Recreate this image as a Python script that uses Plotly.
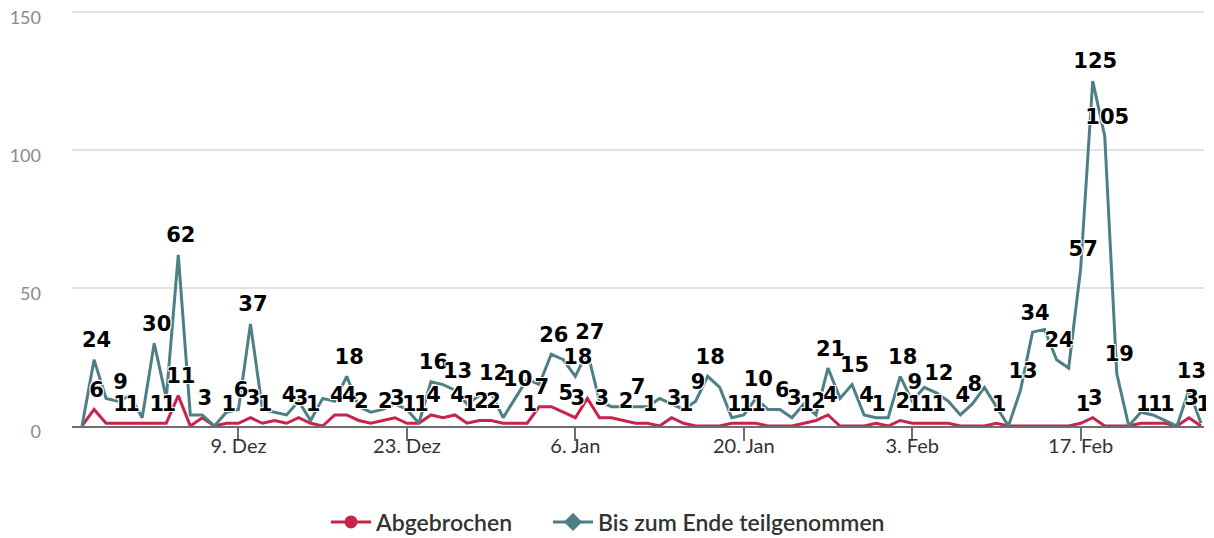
import pandas as pd
import plotly.graph_objects as go

# ---------------- data ----------------
start_date = "2019-11-26"

abgebrochen = [0, 6, 1, 1, 1, 1, 1, 1, 11, 0,
               3, 0, 1, 1, 3, 1, 2, 1, 3, 1,
               0, 4, 4, 2, 1, 2, 3, 1, 1, 4,
               3, 4, 1, 2, 2, 1, 1, 1, 7, 7,
               5, 3, 10, 3, 3, 2, 1, 1, 0, 3,
               1, 0, 0, 0, 1, 1, 1, 0, 0, 0,
               1, 2, 4, 0, 0, 0, 1, 0, 2, 1,
               1, 1, 1, 0, 0, 0, 1, 0, 0, 0,
               0, 0, 0, 1, 3, 0, 0, 0, 1, 1,
               1, 0, 3, 0]

bis_zum_ende = [0, 24, 10, 9, 11, 3, 30, 10, 62, 4,
                4, 0, 5, 6, 37, 6, 5, 4, 9, 2,
                10, 9, 18, 7, 5, 6, 8, 6, 1, 16,
                15, 13, 8, 11, 12, 3, 10, 17, 15, 26,
                24, 18, 27, 9, 7, 7, 7, 7, 10, 8,
                6, 9, 18, 14, 3, 4, 10, 6, 6, 3,
                8, 4, 21, 10, 15, 4, 3, 3, 18, 9,
                14, 12, 9, 4, 8, 14, 7, 0, 13, 34,
                35, 24, 21, 57, 125, 105, 19, 0, 5, 4,
                2, 0, 13, 1]

# indices of points whose data labels are visible (others hidden by overlap)
abg_label_idx = [1, 3, 4, 6, 7, 8, 10, 12, 14, 15, 18, 19, 21, 22, 23, 25, 26,
                 27, 28, 29, 31, 32, 33, 34, 37, 38, 40, 41, 43, 45, 47, 49, 50,
                 54, 55, 56, 60, 61, 62, 66, 68, 69, 70, 71, 76, 83, 84, 88, 89,
                 90, 92]
bis_label_idx = [1, 3, 6, 8, 13, 14, 17, 22, 29, 31, 34, 36, 39, 41, 42, 46, 51,
                 52, 56, 58, 59, 62, 64, 65, 68, 69, 71, 73, 74, 78, 79, 81, 83,
                 84, 85, 86, 92, 93]

tick_dates = ["2019-12-09", "2019-12-23", "2020-01-06", "2020-01-20",
              "2020-02-03", "2020-02-17"]
tick_text = ["9. Dez", "23. Dez", "6. Jan", "20. Jan", "3. Feb", "17. Feb"]
y_ticks = [0, 50, 100, 150]

series_names = ["Abgebrochen", "Bis zum Ende teilgenommen"]

# ---------------- styling ----------------
RED = "#c8234b"
TEAL = "#4f7f86"

dates = pd.date_range(start_date, periods=len(bis_zum_ende))
label_nudge = pd.Timedelta(hours=5)   # data labels sit a few px right of their point

fig = go.Figure()

for vals, col in [(abgebrochen, RED), (bis_zum_ende, TEAL)]:
    fig.add_trace(go.Scatter(
        x=dates, y=vals, mode="lines",
        line=dict(color=col, width=3),
        showlegend=False, hoverinfo="skip"))

# legend entries (line + marker symbol), one legend box each
for name, col, sym, sz, lg in [(series_names[0], RED, "circle", 13, "legend"),
                               (series_names[1], TEAL, "diamond", 14, "legend2")]:
    fig.add_trace(go.Scatter(
        x=[None], y=[None], mode="lines+markers", name=name,
        line=dict(color=col, width=3), legend=lg,
        marker=dict(color=col, symbol=sym, size=sz)))

label_font = dict(family="DejaVu Sans", size=21, color="#000000", weight="bold",
                  shadow="1px 1px 0 #fff, -1px -1px 0 #fff, 1px -1px 0 #fff, -1px 1px 0 #fff")

for vals, idx in [(abgebrochen, abg_label_idx), (bis_zum_ende, bis_label_idx)]:
    fig.add_trace(go.Scatter(
        x=[dates[i] + label_nudge for i in idx], y=[vals[i] for i in idx],
        text=[str(vals[i]) for i in idx],
        mode="markers+text", textposition="top center",
        marker=dict(size=10, color="rgba(0,0,0,0)"),
        textfont=label_font, showlegend=False, hoverinfo="skip",
        cliponaxis=False))

x_start = dates[0] - pd.Timedelta(hours=20)
x_end = dates[-1] + pd.Timedelta(hours=6)

legend_style = dict(
    orientation="h", xanchor="left", y=-0.2308, yanchor="middle",
    font=dict(family="Lato", size=23, color="#333333", weight=600),
    itemsizing="trace", tracegroupgap=0, itemwidth=40,
)

# the page body adds an 8px offset; figure is sized to fill the rest of the window
fig.update_layout(
    width=1206, height=530,
    margin=dict(l=64, r=10, t=2, b=112, autoexpand=False),
    plot_bgcolor="#ffffff", paper_bgcolor="#ffffff",
    font=dict(family="Lato", color="#333333"),
    xaxis=dict(
        type="date", range=[x_start, x_end], automargin=False,
        tickmode="array", tickvals=tick_dates, ticktext=tick_text,
        showgrid=False, zeroline=False,
        showline=True, linecolor="#6e6e6e", linewidth=2,
        ticks="outside", ticklen=13, tickwidth=1.5, tickcolor="#6e6e6e",
        tickfont=dict(family="Lato", size=20, color="#333333"),
        ticklabelstandoff=-12,
    ),
    yaxis=dict(
        range=[0, 150.72], tickmode="array", tickvals=y_ticks, automargin=False,
        showgrid=True, gridcolor="#e3e3e3", gridwidth=1.5,
        zeroline=False, showline=False, ticks="",
        tickfont=dict(family="Lato", size=18, color="#8a8a8a"),
        ticklabelstandoff=30, ticklabelshift=6, ticklabeloverflow="allow",
    ),
    legend=dict(x=0.2244, **legend_style),
    legend2=dict(x=0.4205, **legend_style),
)

fig.write_html("out.html")
